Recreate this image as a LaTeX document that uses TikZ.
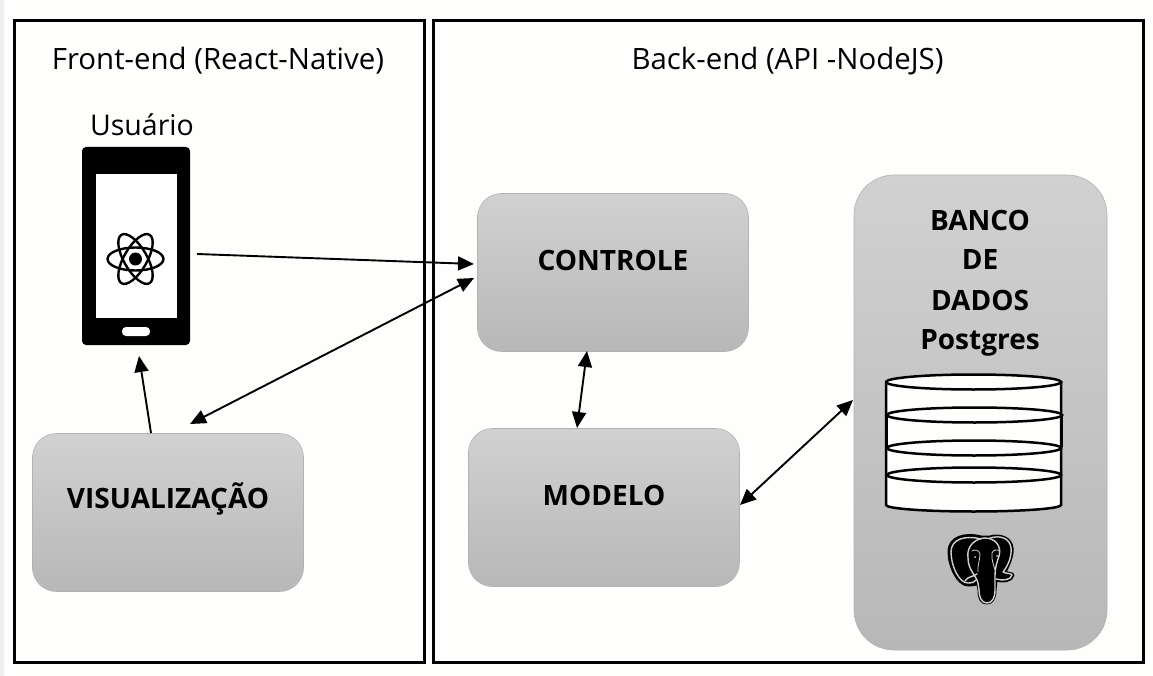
\documentclass[tikz,border=0pt]{standalone}
\usepackage{fontspec}
\setmainfont{Open Sans}
\usetikzlibrary{arrows.meta}
\definecolor{paper}{RGB}{254,254,252}
\tikzset{
 panel/.style={draw=black,line width=3pt,fill=paper},
 block/.style={draw=black!30,line width=.6pt,top color=black!18,bottom color=black!28,rounded corners=24pt},
 titletext/.style={font=\fontsize{29.4}{32}\selectfont,text=black},
 boldtext/.style={font=\bfseries\fontsize{28}{31}\selectfont,text=black},
 link/.style={line width=1.9pt,-{Triangle[length=16pt,width=14pt]}},
 dlink/.style={line width=1.9pt,{Triangle[length=16pt,width=14pt]}-{Triangle[length=16pt,width=14pt]}},
 disk/.style={draw=black,line width=2.5pt,fill=paper},
 contour/.style={draw=black!18,line width=1.4pt,line cap=round,line join=round},
}
\begin{document}
\begin{tikzpicture}[x=1pt,y=-1pt]
\useasboundingbox (0,0) rectangle (1153,676);
\fill[paper] (0,0) rectangle (1153,676);
\fill[black!6] (0,0) rectangle (4,676);
\draw[panel] (14,21) rectangle (424,662);
\draw[panel] (433,21) rectangle (1143,662);
\node[titletext] (ft) at (218,61) {Front-end (React-Native)};
\node[titletext] (bt) at (787.5,61) {Back-end (API -NodeJS)};
\node[titletext,font=\fontsize{28.5}{31}\selectfont] (us) at (142,125) {Usuário};
% phone
\node[fill=black,rounded corners=4pt,minimum width=108pt,minimum height=198pt,inner sep=0pt] (phone) at (136,246) {};
\fill[white] (95.5,174) rectangle (176.5,318);
\fill[white,rounded corners=4pt] (122,327) rectangle (150,336);
\begin{scope}[shift={(135.5,259)}]
 \foreach \a in {0,60,120}{\draw[line width=2.4pt,rotate=\a] (0,0) ellipse (28 and 11.5);}
 \fill (0,0) circle (6.5);
\end{scope}
% blocks
\node[block,minimum width=271pt,minimum height=158pt,inner sep=0pt] (vis) at (168,512.5) {};
\node[boldtext] (vist) at (168,499) {VISUALIZAÇÃO};
\node[block,minimum width=271pt,minimum height=158pt,inner sep=0pt] (ctl) at (613,272.5) {};
\node[boldtext] (ctlt) at (613,260) {CONTROLE};
\node[block,minimum width=271pt,minimum height=158pt,inner sep=0pt] (mod) at (604,507.5) {};
\node[boldtext] (modt) at (604,495) {MODELO};
\node[block,rounded corners=40pt,minimum width=253pt,minimum height=475pt,inner sep=0pt] (db) at (980.5,412.5) {};
\node[boldtext] (d1) at (980,220) {BANCO};
\node[boldtext] (d2) at (980,260) {DE};
\node[boldtext] (d3) at (980,300) {DADOS};
\node[boldtext] (d4) at (980,342.5) {Postgres};
% database cylinder
\draw[disk] (886,382) -- (886,505) arc[start angle=180,end angle=0,x radius=87.5,y radius=6.5] -- (1061,382) -- cycle;
\draw[disk] (886,382) arc[start angle=180,end angle=540,x radius=87.5,y radius=7.5];
\draw[disk] (887,415) arc[start angle=180,end angle=540,x radius=87.5,y radius=7.5];
\draw[disk,fill=none] (1062,415) -- (1062,447) (887,415) -- (887,447);
\draw[disk] (887,448) arc[start angle=180,end angle=540,x radius=87,y radius=7.5];
\draw[disk] (887,475) arc[start angle=180,end angle=540,x radius=87,y radius=7.5];
% elephant
\filldraw[black,line width=3pt,line join=round] (981,537) .. controls (965,533) and (949,537) .. (949,552) .. controls (949,566) and (958,585) .. (968,585) .. controls (972,585) and (976,584) .. (978,584) -- (979,590) .. controls (979,598) and (981,603) .. (987,603) .. controls (992,603) and (995,598) .. (995,590) -- (996,580) .. controls (1003,582) and (1012,581) .. (1013,575) .. controls (1012,573) and (1008,574) .. (1005,572) .. controls (1008,566) and (1013,556) .. (1012,548) .. controls (1011,538) and (1000,534) .. (990,537) -- cycle;
\draw[contour] (981,539) .. controls (965,535) and (951,539) .. (951,552) .. controls (951,566) and (959,583) .. (968,583) .. controls (972,583) and (975,582) .. (976,580);
\draw[contour] (978,583) .. controls (976,575) and (968,570) .. (968,558) .. controls (966,546) and (976,538) .. (985,538) .. controls (995,538) and (1002,546) .. (999,556) .. controls (997,562) and (995,568) .. (995,575) -- (995,590) .. controls (995,598) and (992,603) .. (987,603) .. controls (981,603) and (979,596) .. (979,590) -- (978,583);
\draw[contour] (990,538) .. controls (1000,535) and (1010,538) .. (1011,548) .. controls (1012,556) and (1008,566) .. (1003,572) .. controls (1007,574) and (1011,573) .. (1012,575) .. controls (1011,580) and (1003,581) .. (996,579);
\draw[contour] (965,581) .. controls (968,576) and (973,577) .. (977,574);
\draw[contour,line width=.8pt] (972,551) .. controls (975,549) and (979,550) .. (980,554) .. controls (980,560) and (977,567) .. (978,572);
\draw[contour,line width=.8pt] (1000,551) .. controls (997,549) and (993,550) .. (992,553) .. controls (991,559) and (994,566) .. (995,570);
\fill[black!18] (975,557) circle (1) (997,556) circle (1);
% connectors
\coordinate (a1) at (197,254); \coordinate (a2) at (474,264);
\coordinate (b1) at (190,424); \coordinate (b2) at (474,278);
\coordinate (c1) at (151,433); \coordinate (c2) at (139,356);
\coordinate (d1a) at (587,351); \coordinate (d2a) at (577,428);
\coordinate (e1) at (740,505); \coordinate (e2) at (853,400);
\draw[link] (a1) -- (a2);
\draw[dlink] (b1) -- (b2);
\draw[link] (c1) -- (c2);
\draw[dlink] (d1a) -- (d2a);
\draw[dlink] (e1) -- (e2);
\end{tikzpicture}
\end{document}
